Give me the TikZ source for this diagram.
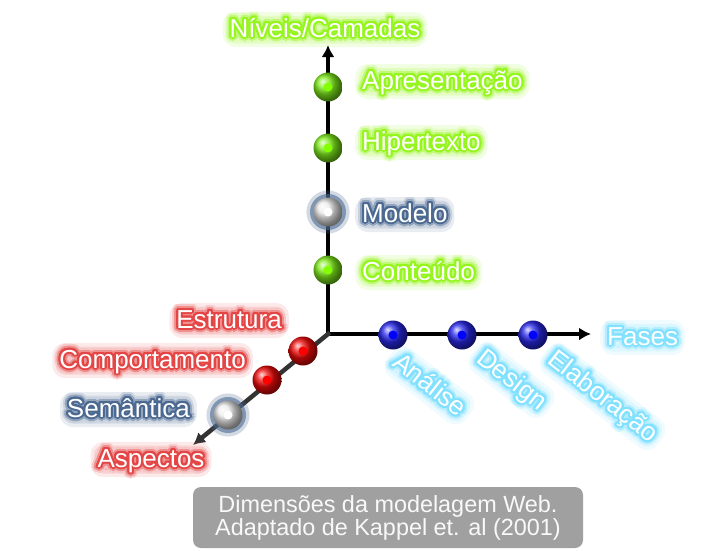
\documentclass[tikz,border=0pt]{standalone}
\usepackage{fontspec}
\setmainfont{Liberation Sans}
\usepackage[copies]{contour}
\usetikzlibrary{arrows.meta}

\definecolor{glowgreen}{RGB}{150,245,30}
\definecolor{glowslate}{RGB}{75,105,145}
\definecolor{glowred}{RGB}{228,70,70}
\definecolor{glowcyan}{RGB}{130,225,255}
\definecolor{beadgreen}{RGB}{125,235,25}
\definecolor{dotgreen}{RGB}{130,255,0}
\definecolor{beadred}{RGB}{240,10,10}
\definecolor{beadblue}{RGB}{40,40,235}
\definecolor{capgray}{RGB}{160,160,160}

\contournumber{24}
\newcommand{\glow}[2]{\rlap{\contourlength{6pt}\contour{#1!30}{#2}}%
    \rlap{\contourlength{4pt}\contour{#1!60}{#2}}%
    \contourlength{2pt}\contour{#1}{#2}}

\begin{document}
\begin{tikzpicture}[x=1pt, y=-1pt,
    axis/.style={line width=4.5pt, line cap=rect, -{Latex[length=12pt, width=13pt]}},
    bead/.style 2 args={circle, minimum size=29pt, inner sep=0pt, ball color=#1,
        path picture={\fill[#2] (path picture bounding box.center) circle (4.5pt);}},
    halo/.style={preaction={draw=#1, line width=14pt, opacity=.25},
        preaction={draw=#1, line width=7pt, opacity=.6}},
    glow/.style={rounded corners=6pt,
        preaction={draw=#1, line width=14pt, opacity=.12},
        preaction={draw=#1, line width=7pt, opacity=.15},
        preaction={fill=#1, opacity=.3}},
    lbl/.style={inner sep=0pt, text height=18pt, text depth=3pt, text=white,
        font=\fontsize{26}{30}\selectfont}]
    \useasboundingbox (0,0) rectangle (720,550);
    \coordinate (o) at (328,334);
    \coordinate (up) at (328,45);
    \coordinate (fw) at (591,334);
    \coordinate (dn) at (193,445);
    \draw[axis] (o) -- (up);
    \draw[axis] (o) -- (fw);
    \draw[axis, black!80] (o) -- (dn);

    \node[lbl, glow=glowgreen, anchor=base] (niv) at (325,37) {\glow{glowgreen}{Níveis/Camadas}};
    \node[lbl, glow=glowgreen, anchor=base west] (tapr) at (362,89) {\glow{glowgreen}{Apresentação}};
    \node[lbl, glow=glowgreen, anchor=base west] (thip) at (362,150) {\glow{glowgreen}{Hipertexto}};
    \node[lbl, glow=glowslate, anchor=base west] (tmod) at (362,222) {\glow{glowslate}{Modelo}};
    \node[lbl, glow=glowgreen, anchor=base west] (tcon) at (362,280) {\glow{glowgreen}{Conteúdo}};

    \node[bead={beadgreen}{dotgreen}] (apr) at (328,87) {};
    \node[bead={beadgreen}{dotgreen}] (hip) at (328,148) {};
    \node[bead={white!85!gray}{white}, halo=glowslate] (mod) at (328,212) {};
    \node[bead={beadgreen}{dotgreen}] (con) at (328,270) {};

    \foreach \x/\y/\t in {391/365/Análise, 475/361/Design, 546/362/Elaboração}
    {
        \node[lbl, glow=glowcyan, rotate=-38, anchor=base west] at (\x,\y) {\glow{glowcyan}{\t}};
    }
    \node[lbl, glow=glowcyan, anchor=base west] (fas) at (607,345) {\glow{glowcyan}{Fases}};
    \foreach \x/\n in {393/ana, 462/des, 533/ela}
    {
        \node[bead={beadblue}{blue}] (\n) at (\x,335) {};
    }

    \node[lbl, glow=glowred, anchor=base east] (test) at (282,328) {\glow{glowred}{Estrutura}};
    \node[lbl, glow=glowred, anchor=base east] (tcom) at (246,368) {\glow{glowred}{Comportamento}};
    \node[lbl, glow=glowslate, anchor=base east] (tsem) at (190,417) {\glow{glowslate}{Semântica}};
    \node[lbl, glow=glowred, anchor=base] (asp) at (151,467) {\glow{glowred}{Aspectos}};

    \node[bead={beadred}{red}] (est) at (303,351) {};
    \node[bead={beadred}{red}] (com) at (267,380) {};
    \node[bead={white!85!gray}{white}, halo=glowslate] (sem) at (228,415) {};

    \node[fill=capgray, rounded corners=8pt, minimum width=390pt, minimum height=61pt,
        align=center, text=white!95!gray, font=\fontsize{23.4}{23}\selectfont] (cap) at (388,517.5)
        {Dimensões da modelagem Web.\\Adaptado de Kappel et. al (2001)};
\end{tikzpicture}
\end{document}
